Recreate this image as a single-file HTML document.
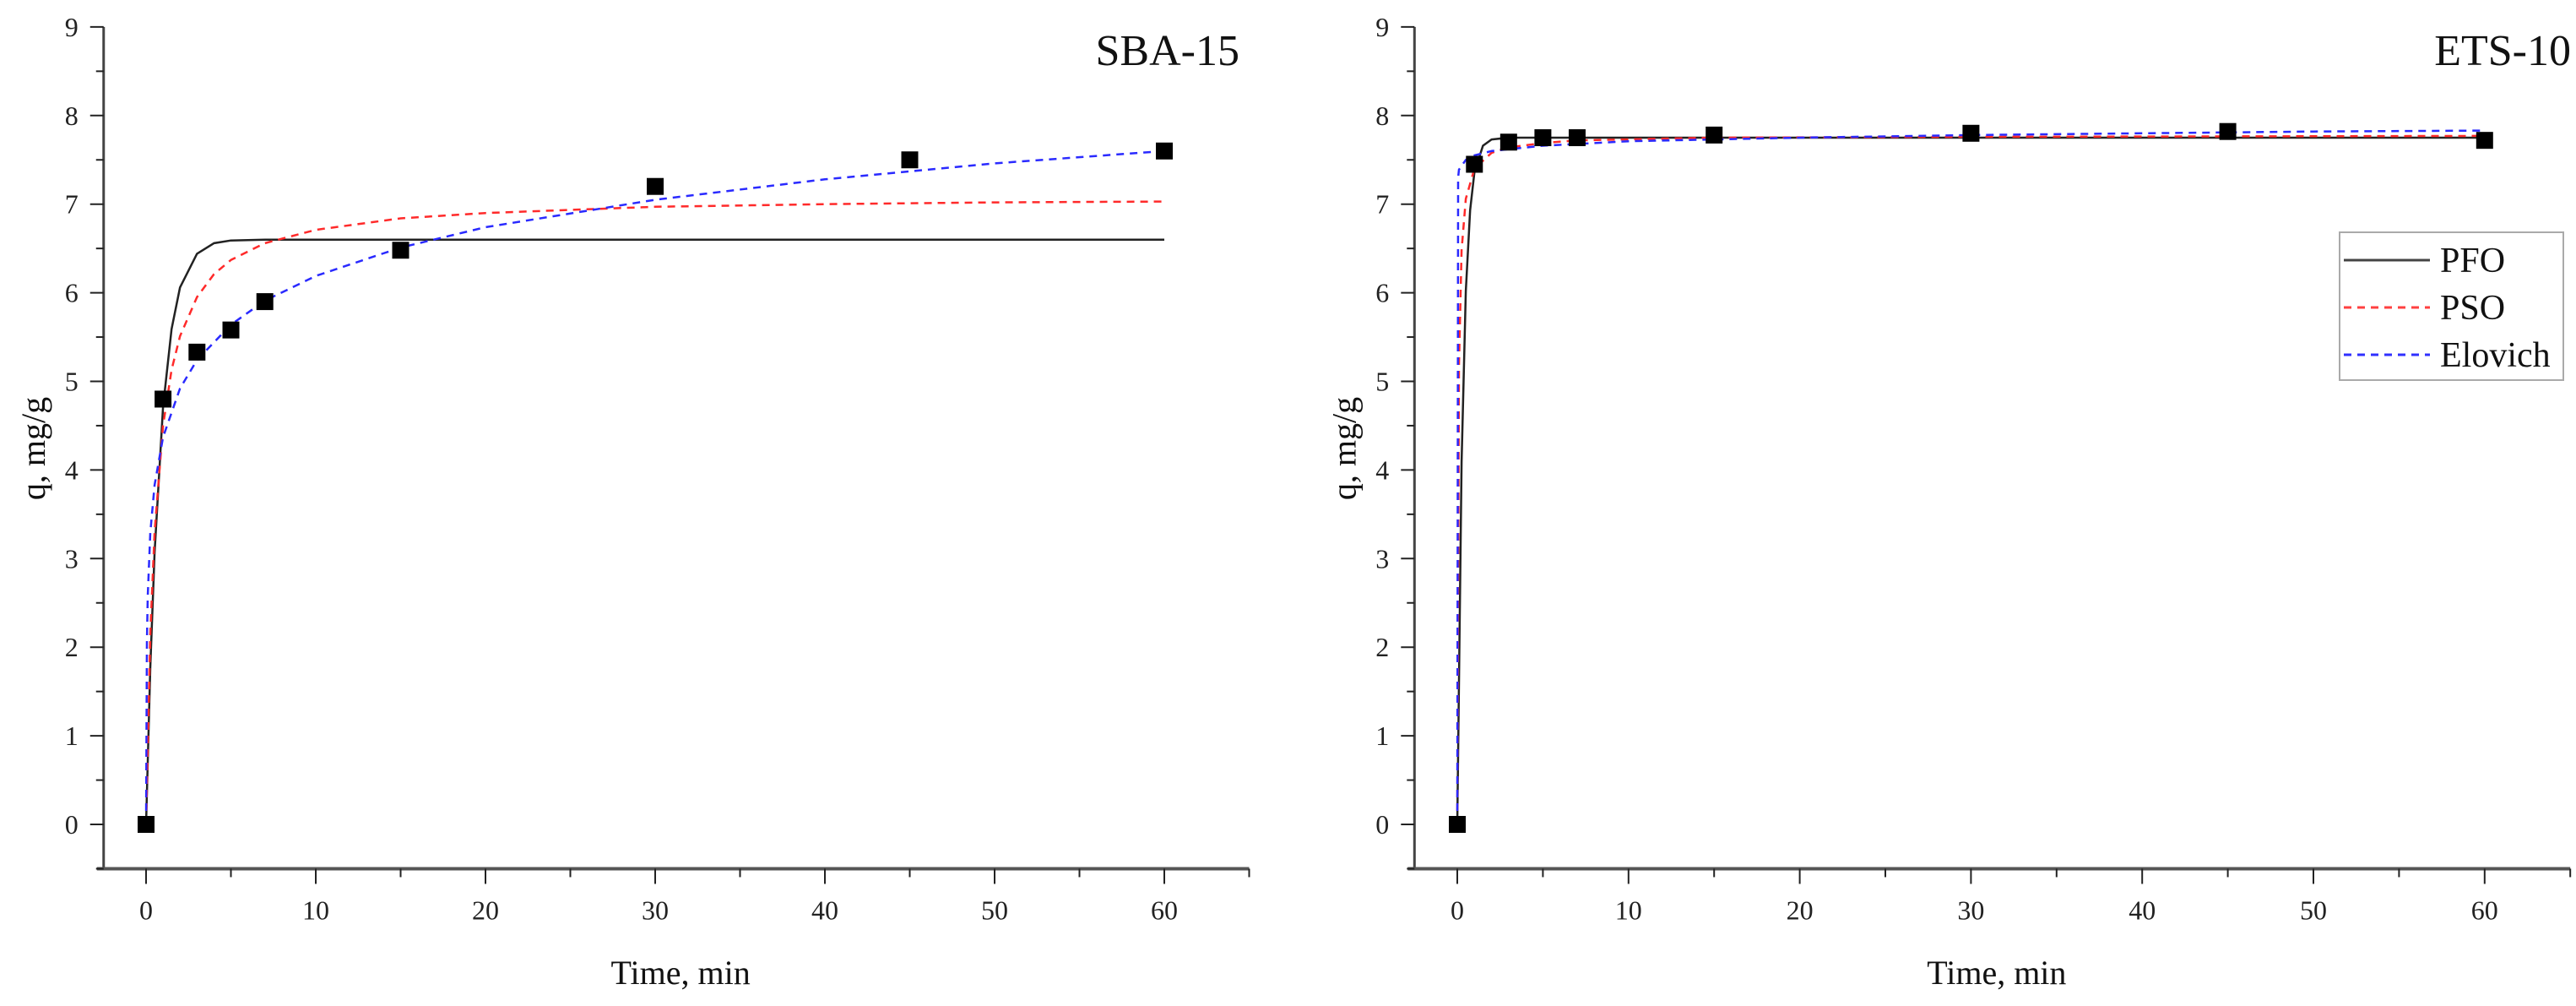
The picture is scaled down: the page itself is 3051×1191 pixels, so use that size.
<!DOCTYPE html>
<html><head><meta charset="utf-8"><style>
html,body{margin:0;padding:0;background:#fff;}
svg{display:block;font-family:"Liberation Serif",serif;}
</style></head><body>
<svg id="chart" width="3051" height="1191" viewBox="0 0 3051 1191" xmlns="http://www.w3.org/2000/svg"></svg>
<script>
// ---- data ----
const dataT = [0, 1, 3, 5, 7, 15, 30, 45, 60];
const sbaQ = [0, 4.8, 5.33, 5.58, 5.9, 6.48, 7.2, 7.5, 7.6];
const etsQ = [0, 7.45, 7.7, 7.75, 7.75, 7.78, 7.8, 7.82, 7.72];

const sbaPfoT = [0, 0.25, 0.5, 1, 1.5, 2, 3, 4, 5, 7, 10, 60];
const sbaPfoQ = [0, 1.77, 3.07, 4.71, 5.59, 6.06, 6.44, 6.56, 6.59, 6.6, 6.6, 6.6];
const sbaPsoT = [0, 0.25, 0.5, 1, 1.5, 2, 3, 4, 5, 7, 10, 15, 20, 30, 40, 50, 60];
const sbaPsoQ = [0, 2.15, 3.30, 4.50, 5.13, 5.51, 5.95, 6.21, 6.37, 6.56, 6.71, 6.84, 6.90, 6.97, 7.00, 7.02, 7.03];
const sbaEloT = [0, 0.05, 0.1, 0.25, 0.5, 1, 2, 3, 5, 7, 10, 15, 20, 30, 40, 50, 60];
const sbaEloQ = [0, 2.06, 2.58, 3.29, 3.83, 4.37, 4.92, 5.24, 5.64, 5.91, 6.19, 6.51, 6.74, 7.05, 7.28, 7.46, 7.60];

const etsPfoT = [0, 0.25, 0.5, 0.75, 1, 1.5, 2, 3, 60];
const etsPfoQ = [0, 4.09, 6.02, 6.93, 7.36, 7.66, 7.73, 7.75, 7.75];
const etsPsoT = [0, 0.1, 0.25, 0.5, 1, 2, 3, 5, 7, 15, 30, 60];
const etsPsoQ = [0, 5.18, 6.48, 7.06, 7.40, 7.58, 7.64, 7.69, 7.72, 7.75, 7.76, 7.77];
const etsEloT = [0, 0.05, 0.1, 0.5, 1, 2, 3, 5, 7, 10, 15, 20, 30, 40, 50, 60];
const etsEloQ = [0, 7.3, 7.39, 7.50, 7.55, 7.60, 7.62, 7.66, 7.68, 7.71, 7.73, 7.75, 7.78, 7.80, 7.82, 7.83];

const xTicks = [0, 10, 20, 30, 40, 50, 60];
const xMinor = [5, 15, 25, 35, 45, 55, 65];
const yTicks = [0, 1, 2, 3, 4, 5, 6, 7, 8, 9];
const yMinor = [-0.5, 0.5, 1.5, 2.5, 3.5, 4.5, 5.5, 6.5, 7.5, 8.5];

const NS = "http://www.w3.org/2000/svg";
const svg = document.getElementById('chart');
function mk(tag, attrs, parent) {
  const e = document.createElementNS(NS, tag);
  for (const k in attrs) e.setAttribute(k, attrs[k]);
  (parent || svg).appendChild(e);
  return e;
}

function panel(cfg) {
  const g = mk('g', {});
  
  
  const y0 = 976, yPer = 104.9;
  const xs = t => cfg.x0 + t * cfg.per10 / 10;
  const ys = q => y0 - q * yPer;
  const xAxisY = ys(-0.5), xLeft = xs(-2.5), xRight = xs(65);
  // axes
  const ya = mk('line', {x1: xLeft, y1: ys(9), x2: xLeft, y2: xAxisY + 1, stroke: '#444', 'stroke-width': 3}, g);
  
  
  const xa = mk('line', {x1: xLeft - 8, y1: xAxisY, x2: xRight, y2: xAxisY, stroke: '#555', 'stroke-width': 4}, g);
  
  
  xTicks.forEach(t => {
    const l = mk('line', {x1: xs(t), y1: xAxisY, x2: xs(t), y2: xAxisY + 18, stroke: '#222', 'stroke-width': 2}, g);
    
    
    const tx = mk('text', {x: xs(t), y: xAxisY + 60, 'font-size': 32, 'text-anchor': 'middle', fill: '#222'}, g);
    
    
    tx.textContent = t;
  });
  xMinor.forEach(t => {
    const l = mk('line', {x1: xs(t), y1: xAxisY, x2: xs(t), y2: xAxisY + 10, stroke: '#222', 'stroke-width': 2}, g);
    
    
  });
  yTicks.forEach(q => {
    const l = mk('line', {x1: xLeft - 16, y1: ys(q), x2: xLeft, y2: ys(q), stroke: '#222', 'stroke-width': 2}, g);
    
    
    const tx = mk('text', {x: xLeft - 30, y: ys(q) + 11, 'font-size': 32, 'text-anchor': 'end', fill: '#222'}, g);
    
    
    tx.textContent = q;
  });
  yMinor.forEach(q => {
    const l = mk('line', {x1: xLeft - 9, y1: ys(q), x2: xLeft, y2: ys(q), stroke: '#222', 'stroke-width': 2}, g);
    
    
  });
  // axis titles
  const xt = mk('text', {x: xs(31.5), y: 1165, 'font-size': 40, 'text-anchor': 'middle', fill: '#111'}, g);
  
  
  xt.textContent = 'Time, min';
  const yt = mk('text', {x: 0, y: 0, 'font-size': 40, 'text-anchor': 'middle', fill: '#111',
    transform: 'translate(' + (xLeft - 70) + ',531) rotate(-90)'}, g);
  
  
  yt.textContent = 'q, mg/g';
  // panel title
  const pt = mk('text', {x: cfg.titleX, y: 77, 'font-size': 52, 'text-anchor': 'end', fill: '#111'}, g);
  
  
  pt.textContent = cfg.title;
  // curves
  const curves = [
    {T: cfg.pfoT, Q: cfg.pfoQ, c: '#222', d: null, w: 2.5, n: 'pfo-curve'},
    {T: cfg.psoT, Q: cfg.psoQ, c: '#ff2a2a', d: '9 7', w: 2.5, n: 'pso-curve'},
    {T: cfg.eloT, Q: cfg.eloQ, c: '#2a2aff', d: '9 7', w: 2.5, n: 'elovich-curve'}
  ];
  curves.forEach(cv => {
    const pts = cv.T.map((t, i) => xs(t).toFixed(1) + ',' + ys(cv.Q[i]).toFixed(1)).join(' ');
    const attrs = {points: pts, fill: 'none', stroke: cv.c, 'stroke-width': cv.w, 'stroke-linejoin': 'round'};
    if (cv.d) attrs['stroke-dasharray'] = cv.d;
    const p = mk('polyline', attrs, g);
    
    
  });
  // markers
  dataT.forEach((t, i) => {
    const r = mk('rect', {x: xs(t) - 10, y: ys(cfg.data[i]) - 10, width: 20, height: 20, fill: '#000'}, g);
    
    
  });
}

panel({name: 'sba15-panel', title: 'SBA-15', titleX: 1468, x0: 173, per10: 201,
  data: sbaQ, pfoT: sbaPfoT, pfoQ: sbaPfoQ, psoT: sbaPsoT, psoQ: sbaPsoQ, eloT: sbaEloT, eloQ: sbaEloQ});
panel({name: 'ets10-panel', title: 'ETS-10', titleX: 3045, x0: 1726, per10: 202.8,
  data: etsQ, pfoT: etsPfoT, pfoQ: etsPfoQ, psoT: etsPsoT, psoQ: etsPsoQ, eloT: etsEloT, eloQ: etsEloQ});

// legend
const lg = mk('g', {});


mk('rect', {x: 2771, y: 275, width: 265, height: 175, fill: '#fff', stroke: '#aaa', 'stroke-width': 2}, lg);
const legNames = ['PFO', 'PSO', 'Elovich'];
const legColors = ['#444', '#ff4040', '#3030ff'];
const legDash = [null, '9 7', '9 7'];
const legY = [308, 364, 420];
legNames.forEach((n, i) => {
  const a = {x1: 2776, y1: legY[i], x2: 2878, y2: legY[i], stroke: legColors[i], 'stroke-width': 3};
  if (legDash[i]) a['stroke-dasharray'] = legDash[i];
  const l = mk('line', a, lg);
  
  
  const t = mk('text', {x: 2890, y: legY[i] + 14, 'font-size': 42, fill: '#111'}, lg);
  
  
  t.textContent = n;
});
</script>
</body></html>
